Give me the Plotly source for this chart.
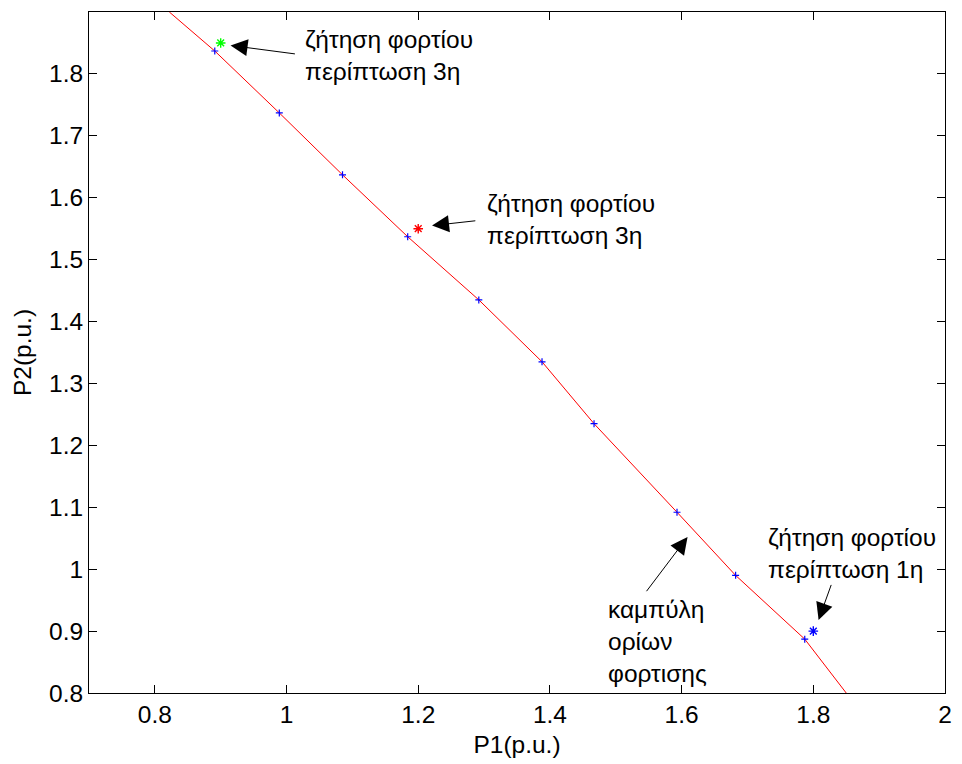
import plotly.graph_objects as go

# Loading-limit curve (P1, P2 in p.u.)
curve_p1 = [0.822, 0.891, 0.989, 1.085, 1.184, 1.292, 1.388, 1.467, 1.593, 1.682, 1.787, 1.850]
curve_p2 = [1.900, 1.837, 1.737, 1.637, 1.537, 1.435, 1.335, 1.235, 1.092, 0.990, 0.887, 0.800]

# Computed points on the limit curve
limit_p1 = [0.891, 0.989, 1.085, 1.184, 1.292, 1.388, 1.467, 1.593, 1.682, 1.787]
limit_p2 = [1.837, 1.737, 1.637, 1.537, 1.435, 1.335, 1.235, 1.092, 0.990, 0.887]

# Load demand cases
case_p1 = [1.80, 1.20, 0.90]
case_p2 = [0.90, 1.55, 1.85]
case_colors = ["#0000ff", "#ff0000", "#00ff00"]

x_ticks = [0.8, 1.0, 1.2, 1.4, 1.6, 1.8, 2.0]
x_tick_text = ["0.8", "1", "1.2", "1.4", "1.6", "1.8", "2"]
y_ticks = [0.8, 0.9, 1.0, 1.1, 1.2, 1.3, 1.4, 1.5, 1.6, 1.7, 1.8]
y_tick_text = ["0.8", "0.9", "1", "1.1", "1.2", "1.3", "1.4", "1.5", "1.6", "1.7", "1.8"]

FONT = "Arial, 'Liberation Sans', Helvetica, sans-serif"
FS = 24.5

fig = go.Figure()

fig.add_trace(go.Scatter(
    x=curve_p1, y=curve_p2, mode="lines",
    line=dict(color="#ff0000", width=1), showlegend=False, hoverinfo="skip"))

fig.add_trace(go.Scatter(
    x=limit_p1, y=limit_p2, mode="markers",
    marker=dict(symbol="cross-thin-open", size=5, color="#0000ff",
                line=dict(color="#0000ff", width=1.2)),
    showlegend=False))

for px, py, c in zip(case_p1, case_p2, case_colors):
    fig.add_trace(go.Scatter(
        x=[px], y=[py], mode="markers",
        marker=dict(symbol="asterisk-open", size=8, color=c, line=dict(color=c, width=1.4)),
        showlegend=False))

# Annotation texts and arrows
labels = [
    dict(text="ζήτηση φορτίου<br>περίπτωση 3η", x=1.025, y=1.830),
    dict(text="ζήτηση φορτίου<br>περίπτωση 3η", x=1.301, y=1.565),
    dict(text="ζήτηση φορτίου<br>περίπτωση 1η", x=1.728, y=1.025),
    dict(text="καμπύλη<br>ορίων<br>φορτισης", x=1.485, y=0.883),
]
arrows = [
    dict(tail=(1.015, 1.832), tip=(0.915, 1.846)),
    dict(tail=(1.289, 1.563), tip=(1.221, 1.555)),
    dict(tail=(1.828, 0.977), tip=(1.808, 0.918)),
    dict(tail=(1.545, 0.962), tip=(1.609, 1.052)),
]

annotations = []
for lab in labels:
    annotations.append(dict(
        x=lab["x"], y=lab["y"], xref="x", yref="y", text=lab["text"],
        showarrow=False, xanchor="left", yanchor="middle", align="left",
        font=dict(family=FONT, size=FS, color="#000000")))
for a in arrows:
    annotations.append(dict(
        x=a["tip"][0], y=a["tip"][1], ax=a["tail"][0], ay=a["tail"][1],
        xref="x", yref="y", axref="x", ayref="y", text="",
        showarrow=True, arrowhead=2, arrowsize=3.4, arrowwidth=1,
        arrowcolor="#000000"))

axis_common = dict(
    showgrid=False, zeroline=False, showline=True, linecolor="#000000",
    linewidth=1, mirror="ticks", ticks="inside", ticklen=8, tickwidth=1,
    tickcolor="#000000", tickfont=dict(family=FONT, size=FS, color="#000000"),
)

fig.update_layout(
    width=962, height=764,
    margin=dict(l=89, r=10, t=12, b=71),
    paper_bgcolor="#ffffff", plot_bgcolor="#ffffff",
    xaxis=dict(range=[0.7, 2.0], tickvals=x_ticks, ticktext=x_tick_text,
               title=dict(text="P1(p.u.)", font=dict(family=FONT, size=FS, color="#000000"), standoff=8),
               **axis_common),
    yaxis=dict(range=[0.8, 1.9], tickvals=y_ticks, ticktext=y_tick_text,
               title=dict(text="P2(p.u.)", font=dict(family=FONT, size=FS, color="#000000"), standoff=10),
               **axis_common),
    annotations=annotations,
    showlegend=False,
)

fig.write_html("out.html")
